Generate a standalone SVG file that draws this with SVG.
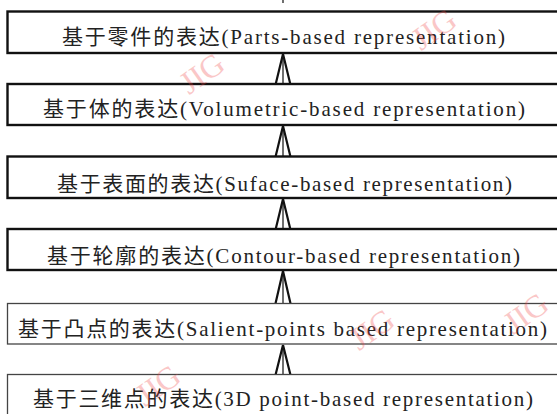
<svg xmlns="http://www.w3.org/2000/svg" width="557" height="414" viewBox="0 0 557 414">
<style>
.box{fill:#fff;stroke:#111;stroke-width:2.4}
.boxl{fill:#fff;stroke:#444;stroke-width:1.3}
.lbl{font-family:"Liberation Serif","Noto Sans CJK SC",serif;font-size:21px;fill:#222}
.wm{font-family:"Liberation Serif",serif;font-size:32px;fill:#f04848;opacity:0.3}
.chev{fill:none;stroke:#111;stroke-width:2.2;stroke-linejoin:miter}
.stem{stroke:#333;stroke-width:1.4}
</style>
<rect width="557" height="414" fill="#fff"/>
<g id="connectors">
<line class="stem" x1="283" y1="0" x2="283" y2="3"/>
<line class="stem" x1="283" y1="54" x2="283" y2="84"/>
<polyline class="chev" points="274,91 283,54 292,91"/>
<line class="stem" x1="283" y1="126" x2="283" y2="156"/>
<polyline class="chev" points="274,163 283,126 292,163"/>
<line class="stem" x1="283" y1="199" x2="283" y2="229"/>
<polyline class="chev" points="274,236 283,199 292,236"/>
<line class="stem" x1="283" y1="271" x2="283" y2="303"/>
<polyline class="chev" points="274,310 283,271 292,310"/>
<line class="stem" x1="283" y1="345" x2="283" y2="374"/>
<polyline class="chev" points="274,381 283,345 292,381"/>
</g>
<g id="n1">
<rect class="box" x="7.5" y="11.5" width="560" height="41.5"/>
<text class="lbl" x="62" y="44" textLength="443" lengthAdjust="spacing">基于零件的表达(Parts-based representation)</text>
</g>
<g id="n2">
<rect class="box" x="7.5" y="84" width="560" height="41"/>
<text class="lbl" x="43" y="116" textLength="482" lengthAdjust="spacing">基于体的表达(Volumetric-based representation)</text>
</g>
<g id="n3">
<rect class="box" x="7.5" y="156.5" width="560" height="41.5"/>
<text class="lbl" x="57" y="191" textLength="455" lengthAdjust="spacing">基于表面的表达(Suface-based representation)</text>
</g>
<g id="n4">
<rect class="box" x="7.5" y="229" width="560" height="41"/>
<text class="lbl" x="47" y="263" textLength="473" lengthAdjust="spacing">基于轮廓的表达(Contour-based representation)</text>
</g>
<g id="n5">
<rect class="boxl" x="7.5" y="303.5" width="560" height="40.5"/>
<text class="lbl" x="18" y="336" textLength="529" lengthAdjust="spacing">基于凸点的表达(Salient-points based representation)</text>
</g>
<g id="n6">
<rect class="boxl" x="7.5" y="374.5" width="560" height="50"/>
<text class="lbl" x="33" y="406" textLength="500" lengthAdjust="spacing">基于三维点的表达(3D point-based representation)</text>
</g>
<g id="watermarks">
<text class="wm" transform="translate(440,38) rotate(-35)" text-anchor="middle">JIG</text>
<text class="wm" transform="translate(208,82) rotate(-35)" text-anchor="middle">JIG</text>
<text class="wm" transform="translate(378,338) rotate(-35)" text-anchor="middle">JIG</text>
<text class="wm" transform="translate(164,394) rotate(-35)" text-anchor="middle">JIG</text>
<text class="wm" transform="translate(532,322) rotate(-35)" text-anchor="middle">JIG</text>
</g>
</svg>
